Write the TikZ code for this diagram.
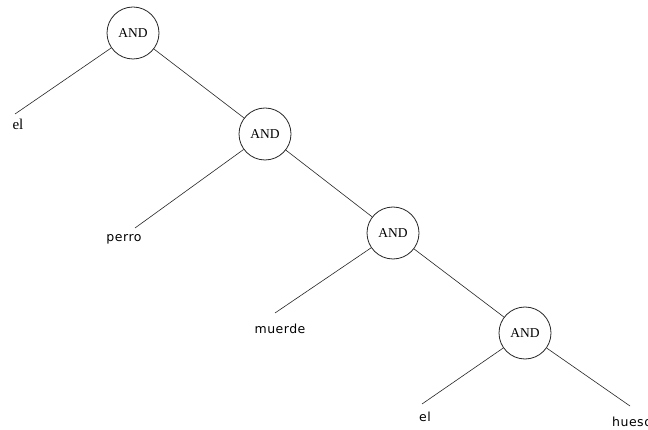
\documentclass[tikz,border=0pt]{standalone}
\usepackage{fontspec}
\setmainfont{Liberation Serif}
\newfontfamily\labelfont[LetterSpace=4]{DejaVu Sans}
\begin{document}
\begin{tikzpicture}[x=1pt,y=-1pt,
  andnode/.style={circle,draw=black!85,line width=0.8pt,minimum size=52pt,inner sep=0pt,font=\fontsize{13.5}{13.5}\selectfont},
  leafserif/.style={font=\fontsize{15}{15}\selectfont,inner sep=0pt},
  leafsans/.style={font=\labelfont\fontsize{12.5}{12.5}\selectfont,inner sep=0pt},
  branch/.style={draw=black!85,line width=0.6pt}]
\useasboundingbox (0,0) rectangle (648,430);
\fill[white] (0,0) rectangle (648,430);

% conjunction nodes along the spine
\node[andnode] (and1) at (133,33) {AND};
\node[andnode] (and2) at (265,134) {AND};
\node[andnode] (and3) at (393,233) {AND};
\node[andnode] (and4) at (525,333) {AND};

% word leaves
\node[leafserif] (w1) at (18,124) {el};
\node[leafsans] (w2) at (124,239) {perro};
\node[leafsans] (w3) at (280,329) {muerde};
\node[leafsans] (w4) at (425,417) {el};
\node[leafsans,anchor=west] (w5) at (612,422) {hueso};

% free ends of the branches above each word
\coordinate (e1) at (15,114);
\coordinate (e2) at (135,228);
\coordinate (e3) at (275,313);
\coordinate (e4) at (422,404);
\coordinate (e5) at (630,406);

% spine
\draw[branch] (and1) -- (and2);
\draw[branch] (and2) -- (and3);
\draw[branch] (and3) -- (and4);

% branches to words
\draw[branch] (and1) -- (e1);
\draw[branch] (and2) -- (e2);
\draw[branch] (and3) -- (e3);
\draw[branch] (and4) -- (e4);
\draw[branch] (and4) -- (e5);
\end{tikzpicture}
\end{document}
